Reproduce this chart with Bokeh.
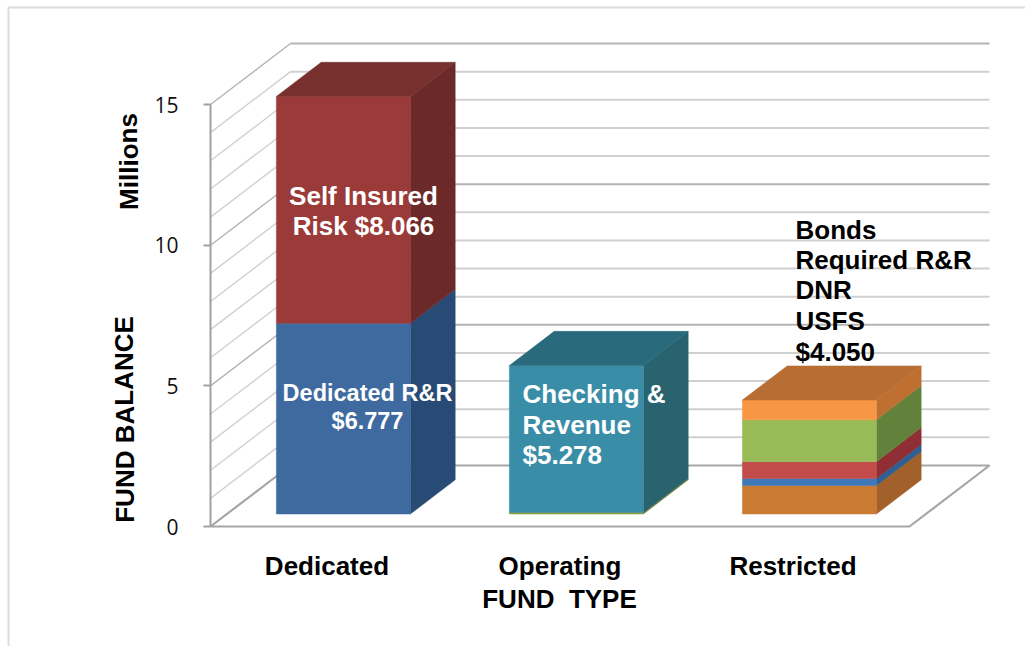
from bokeh.plotting import figure
from bokeh.embed import file_html
from bokeh.resources import INLINE
from bokeh.models import FixedTicker, Label, PolyAnnotation

# ---- data ----
categories = ["Dedicated", "Operating", "Restricted"]
dedicated_values = [6.777, 8.066]
operating_values = [0.05, 5.228]
restricted_values = [1.01, 0.25, 0.60, 1.49, 0.70]
y_ticks = [0, 5, 10, 15]
gridline_values = list(range(1, 16))

front_colors = [["#3f6a9f", "#9a3b39"], ["#8f9f35", "#3a8da7"],
                ["#c97a33", "#3f78b9", "#c24c49", "#98ba57", "#f79745"]]
side_colors = [["#274b74", "#6b2a29"], ["#6f7f2c", "#28636f"],
               ["#a2602a", "#2d5f92", "#8f2f35", "#62813b", "#bf7030"]]
top_colors = ["#77302e", "#2a6a7d", "#b86e33"]

# ---- layout constants: one category = 233px, one value unit = 28.13px ----
PX_X, PX_Y = 233.0, 28.13
ORIGIN_X, ORIGIN_Y = 210.0, 526.0      # page pixels of (0, 0)
W, H = 1025, 646
WALL_DX, WALL_DY = 80 / PX_X, 61 / PX_Y
BAR_WIDTH = 134 / PX_X
BAR_INSET = 0.205
BAR_DEPTH = 0.56
N = len(categories)


def px(x):
    return (x - ORIGIN_X) / PX_X


def py(y):
    return (ORIGIN_Y - y) / PX_Y


p = figure(width=W, height=H, output_backend="svg", toolbar_location=None,
           x_range=(px(0), px(W)), y_range=(py(H), py(0)),
           min_border=0, outline_line_color=None,
           background_fill_color="white", border_fill_color="white")
p.grid.visible = False

# ---- walls ----
for v in gridline_values:
    color = "#b4b4b4" if v in y_ticks else "#d0d0d0"
    p.line([0, WALL_DX], [v, v + WALL_DY], line_color=color, line_width=1.4)
    p.line([WALL_DX, N + WALL_DX], [v + WALL_DY, v + WALL_DY], line_color=color, line_width=2)

p.line([0, WALL_DX, N + WALL_DX, N, 0],
       [0, WALL_DY, WALL_DY, 0, 0], line_color="#a6a6a6", line_width=2.2)


# ---- 3D stacks ----
def draw_stack(i, values, fronts, sides, top):
    cx = i + 0.5 + BAR_INSET * WALL_DX
    l, r = cx - BAR_WIDTH / 2, cx + BAR_WIDTH / 2
    b = BAR_INSET * WALL_DY
    dx, dy = BAR_DEPTH * WALL_DX, BAR_DEPTH * WALL_DY
    for v, fc, sc in zip(values, fronts, sides):
        t = b + v
        p.patch([r, r + dx, r + dx, r], [b, b + dy, t + dy, t], fill_color=sc, line_color=sc, line_width=0.5)
        p.quad(left=[l], right=[r], bottom=[b], top=[t], fill_color=fc, line_color=fc, line_width=0.5)
        b = t
    p.patch([l, r, r + dx, l + dx], [b, b, b + dy, b + dy], fill_color=top, line_color=top, line_width=0.5)


draw_stack(0, dedicated_values, front_colors[0], side_colors[0], top_colors[0])
draw_stack(1, operating_values, front_colors[1], side_colors[1], top_colors[1])
draw_stack(2, restricted_values, front_colors[2], side_colors[2], top_colors[2])

# ---- axes (inside the full-canvas frame) ----
ya = p.yaxis[0]
ya.fixed_location = 0
ya.ticker = FixedTicker(ticks=y_ticks)
ya.bounds = (0, 15)
ya.axis_line_color = "#a0a0a0"
ya.axis_line_width = 2
ya.major_tick_line_color = "#a0a0a0"
ya.major_tick_line_width = 2
ya.major_tick_in = 0
ya.major_tick_out = 7
ya.minor_tick_line_color = None
ya.major_label_standoff = 25
ya.major_label_text_font = "Open Sans"
ya.major_label_text_font_size = "21px"
ya.major_label_text_color = "#111111"

xa = p.xaxis[0]
xa.fixed_location = 0
xa.ticker = FixedTicker(ticks=[i + 0.5 for i in range(N)])
xa.major_label_overrides = {i + 0.5: c for i, c in enumerate(categories)}
xa.axis_line_color = None
xa.major_tick_line_color = None
xa.minor_tick_line_color = None
xa.major_label_standoff = 18
xa.major_label_text_font = "Liberation Sans"
xa.major_label_text_font_style = "bold"
xa.major_label_text_font_size = "26px"
xa.major_label_text_color = "#000000"

# ---- text ----
FONT = "Liberation Sans"


def lab(text, x, y, color="#000000", size="26px", align="left", angle=0):
    p.add_layout(Label(x=px(x), y=py(y), text=text, text_color=color, text_font=FONT,
                       text_font_style="bold", text_font_size=size, text_align=align,
                       text_baseline="middle", angle=angle))


lab("Self Insured", 363, 195, "white", align="center")
lab("Risk $8.066", 363, 225, "white", align="center")
lab("Dedicated R&R", 367, 392, "white", "23.5px", "center")
lab("$6.777", 367, 420, "white", "23.5px", "center")
lab("Checking &", 522, 393, "white")
lab("Revenue", 522, 424, "white")
lab("$5.278", 522, 454, "white")
for t, y in zip(["Bonds", "Required R&R", "DNR", "USFS", "$4.050"], [229, 259, 289, 320, 351]):
    lab(t, 795, y)
lab("FUND\u00a0\u00a0TYPE", 559, 598, align="center")
lab("FUND BALANCE", 124, 419, align="center", angle=1.5708)
lab("Millions", 128, 161, align="center", angle=1.5708)

# ---- outer chart border (open at the bottom and right) ----
p.add_layout(PolyAnnotation(xs=[8, 8, 1200, 1200], ys=[1000, 7, 7, 1000],
                            xs_units="canvas", ys_units="canvas",
                            fill_color=None, line_color="#8c8c8c", line_width=2))

open("out.html", "w").write(file_html(p, INLINE))
